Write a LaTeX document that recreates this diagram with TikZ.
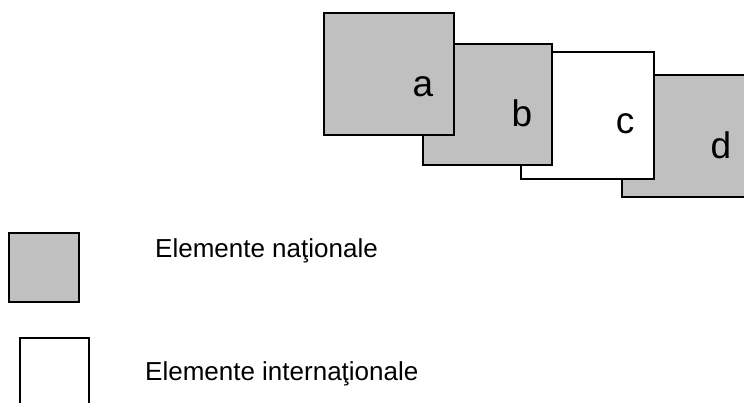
\documentclass[tikz,border=0pt]{standalone}
\usepackage{fontspec}
\setmainfont{Liberation Sans}
\definecolor{boxgrey}{RGB}{192,192,192}
\tikzset{
  greybox/.style={draw=black,fill=boxgrey,line width=1.5pt},
  whitebox/.style={draw=black,fill=white,line width=1.5pt},
  letter/.style={inner sep=0pt,anchor=base,font=\fontsize{37}{44}\selectfont},
  legendtext/.style={inner sep=0pt,anchor=base west,font=\fontsize{26}{31}\selectfont}
}
\begin{document}
\begin{tikzpicture}[x=1pt,y=-1pt]
\useasboundingbox (0,0) rectangle (744,403);
\clip (0,0) rectangle (744,403);
% squares, back to front
\draw[greybox] (622,75) rectangle (770,197);
\draw[whitebox] (521,52) rectangle (654,179);
\draw[greybox] (423,44) rectangle (552,165);
\draw[greybox] (324,13) rectangle (454,135);
\node[letter] (la) at (423,97) {a};
\node[letter] (lb) at (522,127) {b};
\node[letter] (lc) at (625,134) {c};
\node[letter] (ld) at (721,159) {d};
% legend
\draw[greybox] (9,233) rectangle (79,302);
\draw[whitebox] (20,338) rectangle (89,420);
\node[legendtext] (tn) at (155,258) {Elemente naţionale};
\node[legendtext] (ti) at (145,380) {Elemente internaţionale};
\end{tikzpicture}
\end{document}
